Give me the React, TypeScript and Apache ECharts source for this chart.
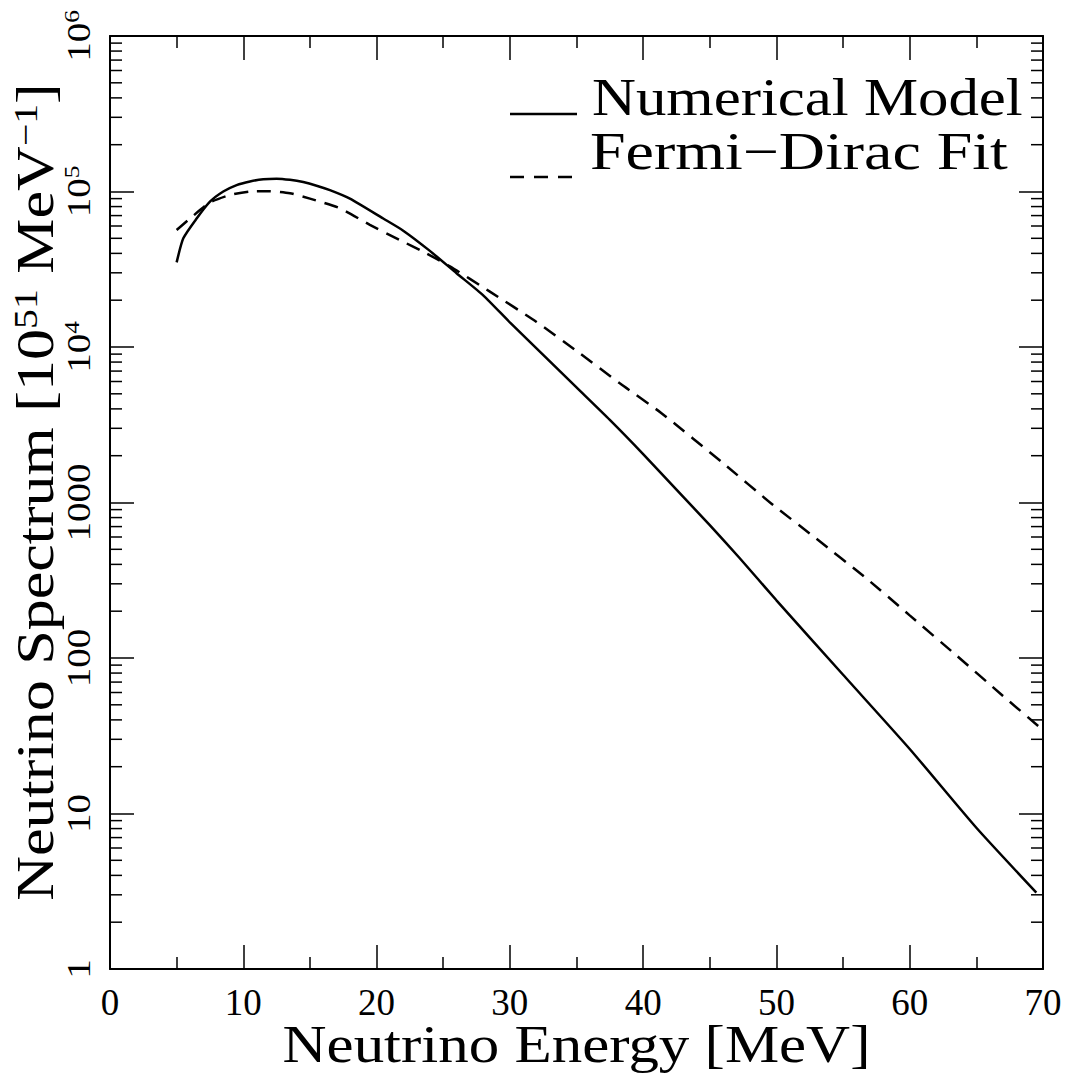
import React, { useEffect, useRef } from "react";
import * as echarts from "echarts";

const FONT = "Liberation Serif";

// Numerical model spectrum [E (MeV), 10^51 MeV^-1]
const numericalModel: [number, number][] = [
  [5, 35000], [5.5, 50000], [6.5, 67000], [7.5, 86000], [8.5, 100000],
  [9.5, 110000], [10.5, 116000], [11.5, 120000], [12.5, 121000], [13.5, 119000],
  [14.5, 115000], [15.5, 109000], [16.5, 102000], [18, 90000], [20.5, 67000],
  [22, 56000], [24, 41500], [26, 29800], [28, 21500], [30, 14400],
  [32.5, 8900], [35, 5500], [37.5, 3400], [40, 2050], [42.5, 1210],
  [45, 715], [47.25, 438], [50, 235], [55, 78], [60, 26], [65, 8.1], [69.5, 3.1],
];

// Fermi-Dirac fit
const fermiDiracFit: [number, number][] = [
  [5, 56500], [6, 67000], [7.5, 85000], [9, 95000], [10.5, 100000],
  [12, 100500], [13.5, 97500], [15, 90000], [17.25, 78000], [19.5, 61000],
  [21.75, 48700], [23.5, 41000], [25.5, 33000], [28.5, 22700], [32, 14500],
  [35.25, 9100], [38.25, 5840], [41.4, 3740], [46, 1790], [49.75, 964],
  [53, 585], [56.75, 325], [60, 188], [63.5, 104], [67, 57], [70, 34.4],
];

// Y-axis decade ticks and their labels
const yTickValues = [1, 10, 100, 1000, 1e4, 1e5, 1e6];
const yTickLabels = ["1", "10", "100", "1000", "10{sup|4}", "10{sup|5}", "10{sup|6}"];

// Log-axis minor tick values (2..9 x 10^k)
const minorTickValues: number[] = [];
for (let k = 0; k < 6; k++) {
  for (let m = 2; m <= 9; m++) minorTickValues.push(m * Math.pow(10, k));
}

const legendNames = ["Numerical Model", "Fermi\u2212Dirac Fit"];
const xTitle = "Neutrino Energy [MeV]";
const yTitle = "Neutrino Spectrum [10{sup|51} MeV{sup|\u22121}]";

export default function App() {
  const ref = useRef<HTMLDivElement>(null);
  useEffect(() => {
    if (!ref.current) return;
    const chart = echarts.init(ref.current, undefined, { renderer: "svg" });
    const tickLine = { lineStyle: { color: "#000", width: 1.5 } };
    const axisLine = { show: true, onZero: false, lineStyle: { color: "#000", width: 2 } };
    const option: any = {
      animation: false,
      backgroundColor: "#fff",
      grid: { left: 110, right: 28, top: 36, bottom: 107, containLabel: false },
      xAxis: [
        {
          type: "value", min: 0, max: 70, interval: 10, position: "bottom",
          axisLine, splitLine: { show: false },
          axisTick: { show: true, inside: true, length: 24, ...tickLine },
          minorTick: { show: true, splitNumber: 2, length: 12, ...tickLine },
          axisLabel: { fontFamily: FONT, fontSize: 37, color: "#000", margin: 15 },
        },
        {
          type: "value", min: 0, max: 70, interval: 10, position: "top",
          axisLine, splitLine: { show: false },
          axisTick: { show: true, inside: true, length: 24, ...tickLine },
          minorTick: { show: true, splitNumber: 2, length: 12, ...tickLine },
          axisLabel: { show: false },
        },
      ],
      yAxis: [
        {
          type: "log", logBase: 10, min: 1, max: 1e6, splitNumber: 6, position: "left",
          axisLine, splitLine: { show: false },
          axisTick: { show: true, inside: true, length: 24, ...tickLine },
          axisLabel: { show: false },
        },
        {
          type: "log", logBase: 10, min: 1, max: 1e6, splitNumber: 6, position: "right",
          axisLine, splitLine: { show: false },
          axisTick: { show: true, inside: true, length: 24, ...tickLine },
          axisLabel: { show: false },
        },
      ],
      series: [
        {
          name: legendNames[0], type: "line", data: numericalModel, showSymbol: false,
          symbol: "none", xAxisIndex: 0, yAxisIndex: 0, smooth: 0.2,
          lineStyle: { color: "#000", width: 2.5 },
        },
        {
          name: legendNames[1], type: "line", data: fermiDiracFit, showSymbol: false,
          symbol: "none", xAxisIndex: 0, yAxisIndex: 0, smooth: 0.2,
          lineStyle: { color: "#000", width: 2.5, type: [14, 9] },
        },
        {
          type: "custom", xAxisIndex: 0, yAxisIndex: 0, silent: true, clip: false,
          data: minorTickValues.map((v) => [0, v]),
          renderItem: (params: any, api: any) => {
            const y = api.coord([0, api.value(1)])[1];
            const cs = params.coordSys;
            return {
              type: "group",
              children: [
                { type: "line", shape: { x1: cs.x, y1: y, x2: cs.x + 12, y2: y }, style: { stroke: "#000", lineWidth: 1.5 } },
                { type: "line", shape: { x1: cs.x + cs.width - 12, y1: y, x2: cs.x + cs.width, y2: y }, style: { stroke: "#000", lineWidth: 1.5 } },
              ],
            };
          },
        },
        {
          type: "custom", xAxisIndex: 0, yAxisIndex: 0, silent: true, clip: false,
          data: yTickValues.map((v, i) => [0, v, i]),
          renderItem: (params: any, api: any) => {
            const y = api.coord([0, api.value(1)])[1];
            const cs = params.coordSys;
            const label = yTickLabels[api.value(2)];
            return {
              type: "text",
              x: cs.x - 32, y, rotation: Math.PI / 2, scaleX: 1.15,
              style: {
                text: label, fontFamily: FONT, fontSize: 34, fill: "#000",
                textAlign: "center", textVerticalAlign: "middle",
                rich: { sup: { fontFamily: FONT, fontSize: 22, fill: "#000", verticalAlign: "top" } },
              },
            };
          },
        },
      ],
      graphic: [
        { type: "line", shape: { x1: 510, y1: 114, x2: 577, y2: 114 }, style: { stroke: "#000", lineWidth: 2.5 } },
        { type: "line", shape: { x1: 510, y1: 177, x2: 577, y2: 177 }, style: { stroke: "#000", lineWidth: 2.5, lineDash: [14, 10] } },
        {
          type: "text", x: 592, y: 98, scaleX: 1.17,
          style: { text: legendNames[0], fontFamily: FONT, fontSize: 52, fill: "#000", textAlign: "left", textVerticalAlign: "middle" },
        },
        {
          type: "text", x: 590, y: 152, scaleX: 1.23,
          style: { text: legendNames[1], fontFamily: FONT, fontSize: 52, fill: "#000", textAlign: "left", textVerticalAlign: "middle" },
        },
        {
          type: "text", x: 576.5, y: 1044, scaleX: 1.15,
          style: { text: xTitle, fontFamily: FONT, fontSize: 53, fill: "#000", textAlign: "center", textVerticalAlign: "middle" },
        },
        {
          type: "text", x: 35, y: 492, rotation: Math.PI / 2, scaleX: 1.17,
          style: {
            text: yTitle,
            fontFamily: FONT, fontSize: 53, fill: "#000", textAlign: "center", textVerticalAlign: "middle",
            rich: {
              sup: { fontFamily: FONT, fontSize: 34, fill: "#000", verticalAlign: "top" },
            },
          },
        },
      ],
    };
    chart.setOption(option);
    return () => chart.dispose();
  }, []);
  return (
    <div
      ref={ref}
      style={{ position: "fixed", left: 0, top: 0, width: 1071, height: 1076, background: "#fff" }}
    />
  );
}
